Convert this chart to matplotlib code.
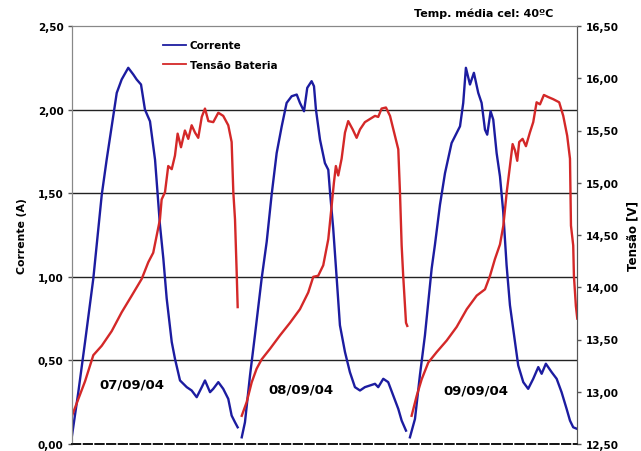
import matplotlib
matplotlib.use("Agg")
import matplotlib.pyplot as plt
import numpy as np
from matplotlib.ticker import FuncFormatter

# hours since start of each day's logging (each day window is 12 h)
day_offsets = [0, 12, 24]
day_labels = ['07/09/04', '08/09/04', '09/09/04']

# corrente (A)
t_i1 = [0.0, 0.45, 0.93, 1.52, 2.12, 2.47, 2.83, 3.19, 3.54, 4.01, 4.37, 4.61, 4.92, 5.20,
        5.56, 5.92, 6.27, 6.51, 6.75, 7.11, 7.34, 7.70, 8.18, 8.53, 8.89, 9.25, 9.48, 9.84,
        10.07, 10.43, 10.78, 11.14, 11.38, 11.62, 11.81]
i1 = [0.05, 0.31, 0.61, 0.99, 1.49, 1.70, 1.90, 2.10, 2.18, 2.25, 2.21, 2.18, 2.15, 2.00,
      1.93, 1.70, 1.31, 1.11, 0.87, 0.61, 0.51, 0.38, 0.34, 0.32, 0.28, 0.34, 0.38, 0.31,
      0.33, 0.37, 0.33, 0.27, 0.17, 0.13, 0.10]

t_i2 = [0.10, 0.33, 0.69, 1.04, 1.52, 1.88, 2.23, 2.59, 2.95, 3.30, 3.66, 4.02, 4.25, 4.54,
        4.77, 5.08, 5.25, 5.39, 5.68, 6.03, 6.27, 6.39, 6.62, 6.87, 7.10, 7.46, 7.81, 8.17,
        8.53, 8.88, 9.24, 9.60, 9.83, 10.19, 10.54, 10.90, 11.26, 11.50, 11.81]
i2 = [0.04, 0.13, 0.41, 0.65, 0.99, 1.21, 1.49, 1.74, 1.90, 2.04, 2.08, 2.09, 2.04, 1.99,
      2.13, 2.17, 2.14, 2.00, 1.82, 1.68, 1.64, 1.51, 1.29, 0.99, 0.71, 0.55, 0.43, 0.34,
      0.32, 0.34, 0.35, 0.36, 0.34, 0.39, 0.37, 0.29, 0.21, 0.14, 0.08]

t_i3 = [0.09, 0.45, 0.80, 1.16, 1.64, 1.87, 2.23, 2.59, 3.06, 3.30, 3.66, 3.89, 4.08, 4.37,
        4.65, 4.96, 5.20, 5.44, 5.60, 5.84, 6.03, 6.27, 6.51, 6.74, 6.98, 7.22, 7.58, 7.81,
        8.17, 8.52, 8.88, 9.24, 9.48, 9.78, 10.19, 10.55, 10.90, 11.26, 11.50, 11.73, 12.02]
i3 = [0.04, 0.15, 0.41, 0.65, 1.05, 1.19, 1.43, 1.62, 1.80, 1.84, 1.90, 2.04, 2.25, 2.15,
      2.22, 2.10, 2.04, 1.88, 1.85, 1.99, 1.94, 1.74, 1.60, 1.39, 1.07, 0.83, 0.61, 0.47,
      0.37, 0.33, 0.39, 0.46, 0.42, 0.48, 0.43, 0.39, 0.31, 0.21, 0.14, 0.10, 0.09]

# tensao bateria (V)
t_v1 = [0.0, 0.45, 0.93, 1.52, 2.12, 2.83, 3.54, 4.26, 4.97, 5.44, 5.79, 6.03, 6.27, 6.39,
        6.63, 6.86, 7.11, 7.34, 7.53, 7.77, 8.05, 8.29, 8.53, 8.77, 9.00, 9.25, 9.48, 9.72,
        10.07, 10.43, 10.78, 11.14, 11.38, 11.50, 11.62, 11.74, 11.81]
v1 = [12.77, 12.93, 13.10, 13.35, 13.44, 13.58, 13.76, 13.92, 14.08, 14.24, 14.33, 14.49,
      14.65, 14.84, 14.91, 15.16, 15.13, 15.26, 15.47, 15.34, 15.50, 15.42, 15.55, 15.48,
      15.43, 15.63, 15.71, 15.59, 15.58, 15.67, 15.64, 15.55, 15.39, 14.91, 14.65, 14.14, 13.81]

t_v2 = [0.10, 0.45, 0.81, 1.16, 1.52, 2.11, 2.83, 3.54, 4.25, 4.84, 5.20, 5.55, 5.91, 6.27,
        6.51, 6.67, 6.81, 6.98, 7.22, 7.46, 7.69, 8.01, 8.29, 8.53, 8.88, 9.24, 9.60, 9.83,
        10.07, 10.38, 10.67, 11.02, 11.26, 11.38, 11.50, 11.61, 11.81, 11.90]
v2 = [12.77, 12.90, 13.09, 13.22, 13.31, 13.41, 13.54, 13.66, 13.79, 13.95, 14.10, 14.11,
      14.21, 14.46, 14.78, 15.00, 15.16, 15.07, 15.23, 15.48, 15.59, 15.51, 15.43, 15.51,
      15.58, 15.61, 15.64, 15.63, 15.71, 15.72, 15.64, 15.45, 15.32, 14.91, 14.40, 14.11,
      13.66, 13.63]

t_v3 = [0.21, 0.57, 0.93, 1.40, 2.00, 2.71, 3.42, 4.14, 4.85, 5.44, 5.80, 6.15, 6.51, 6.75,
        6.99, 7.22, 7.41, 7.58, 7.74, 7.88, 8.12, 8.36, 8.64, 8.88, 9.12, 9.36, 9.64, 9.95,
        10.30, 10.73, 11.02, 11.30, 11.50, 11.57, 11.73, 11.78, 11.92, 12.02]
v3 = [12.77, 12.96, 13.12, 13.28, 13.38, 13.49, 13.62, 13.79, 13.92, 13.98, 14.11, 14.27,
      14.41, 14.59, 14.91, 15.16, 15.37, 15.31, 15.21, 15.39, 15.42, 15.35, 15.48, 15.58,
      15.77, 15.75, 15.84, 15.82, 15.80, 15.77, 15.64, 15.45, 15.23, 14.59, 14.40, 14.11,
      13.82, 13.70]

# where each date label sits (hour, A)
label_pos = [(4.3, 0.36), (16.3, 0.33), (28.8, 0.32)]

BLUE = '#1c1ca0'
RED = '#d42828'

plt.rcParams['font.family'] = ['DejaVu Sans']

fig = plt.figure(figsize=(6.41, 4.52), dpi=100)
ax = fig.add_axes([72/641, 1-445/452, 505/641, 418/452])
ax2 = ax.twinx()

curr = [(t_i1, i1), (t_i2, i2), (t_i3, i3)]
volt = [(t_v1, v1), (t_v2, v2), (t_v3, v3)]
for k, off in enumerate(day_offsets):
    tx, y = curr[k]
    ax.plot(np.array(tx) + off, y, color=BLUE, lw=1.7,
            label='Corrente' if k == 0 else None)
    tx, y = volt[k]
    ax2.plot(np.array(tx) + off, y, color=RED, lw=1.7,
             label='Tensão Bateria' if k == 0 else None)

ax.set_xlim(0, 36)
ax.set_ylim(0, 2.5)
ax2.set_ylim(12.5, 16.5)
ax.set_xticks([])

comma = FuncFormatter(lambda v, p: f'{v:.2f}'.replace('.', ','))
ax.set_yticks(np.arange(0, 2.51, 0.5))
ax2.set_yticks(np.arange(12.5, 16.51, 0.5))
ax.yaxis.set_major_formatter(comma)
ax2.yaxis.set_major_formatter(comma)
for a in (ax, ax2):
    a.tick_params(axis='y', length=3, width=1, color='#555555', pad=3,
                  labelsize=7.5)
    for lab in a.get_yticklabels():
        lab.set_fontweight('bold')

# horizontal grid
for g in [0.5, 1.0, 1.5, 2.0]:
    ax.axhline(g, color='#222222', lw=1, zorder=0)

for a in (ax, ax2):
    a.spines['top'].set_color('#888888')
    a.spines['left'].set_color('#888888')
    a.spines['right'].set_color('#555555')
    a.spines['bottom'].set_linestyle((0, (5, 2)))
    a.spines['bottom'].set_color('#111111')
    a.spines['bottom'].set_linewidth(1.2)

ax.set_ylabel('Corrente (A)', fontsize=7.8, fontweight='bold', labelpad=8)
ax2.set_ylabel('Tensão [V]', fontsize=8.5, fontweight='bold', labelpad=6)

for (x, y), txt in zip(label_pos, day_labels):
    ax.text(x, y, txt, ha='center', va='center', fontsize=9.5, fontweight='bold')

fig.text(483.5/641, 1-14/452, 'Temp. média cel: 40ºC', ha='center', va='center',
         fontsize=8, fontweight='bold')

h1, l1 = ax.get_legend_handles_labels()
h2, l2 = ax2.get_legend_handles_labels()
leg = ax2.legend(h1 + h2, l1 + l2, loc='upper left', bbox_to_anchor=(0.18, 0.966),
                 frameon=False, borderpad=0, borderaxespad=0, handlelength=2.2,
                 handletextpad=0.4, labelspacing=0.95,
                 prop={'size': 7.5, 'weight': 'bold'})
for ln in leg.get_lines():
    ln.set_linewidth(1.3)

fig.savefig('out.png', dpi=100)
